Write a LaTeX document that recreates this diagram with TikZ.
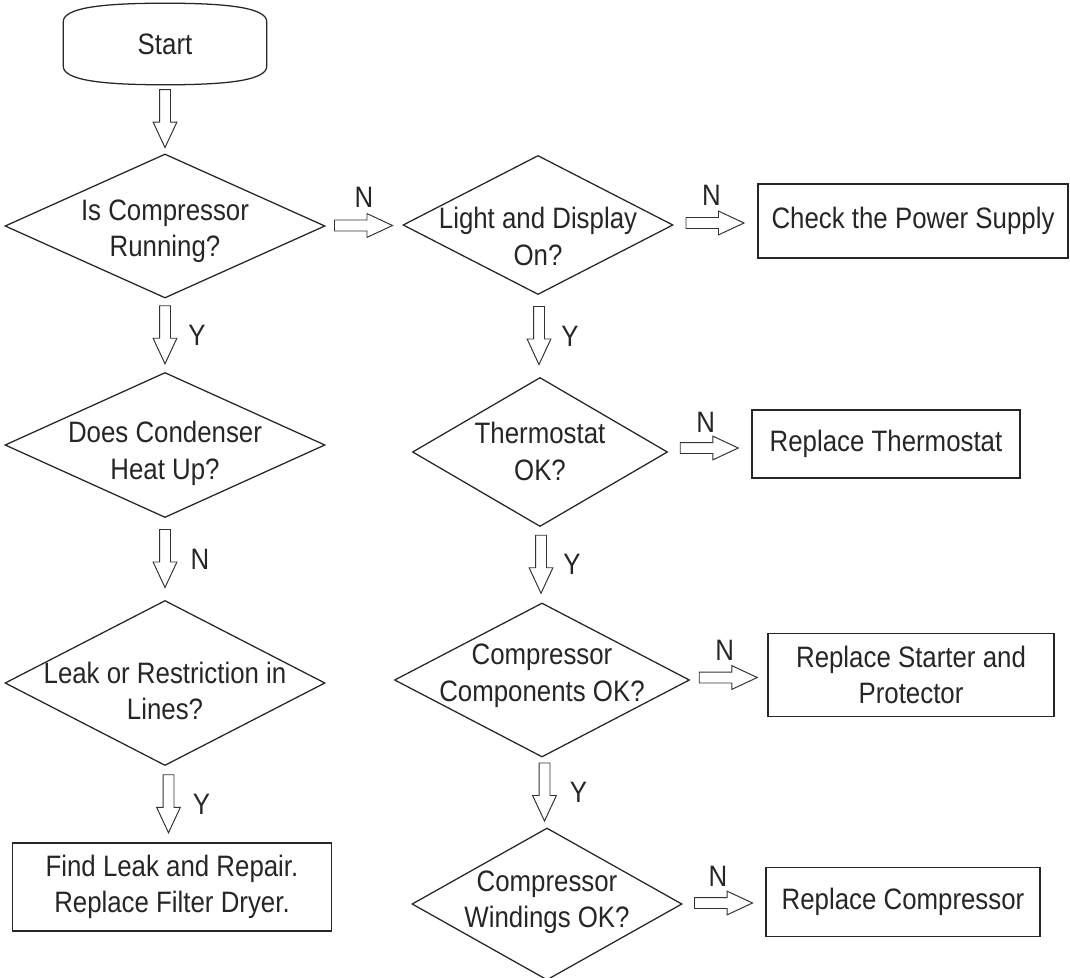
\documentclass[tikz,border=0pt]{standalone}
\usepackage{fontspec}
\setmainfont{Liberation Sans}[FakeStretch=0.875]
\usetikzlibrary{positioning, shapes.geometric, shapes.arrows, calc}

\newcommand{\qtxt}[2][-5pt]{\makebox[0pt]{\raisebox{#1}{\smash{\begin{tabular}{@{}c@{}}#2\end{tabular}}}}}

\begin{document}
\begin{tikzpicture}[
  x=0.025cm, y=-0.025cm,
  every node/.style={font=\fontsize{21}{26}\selectfont, text=black!85},
  decision/.style={diamond, draw=black!85, line width=0.9pt, aspect=2.2, inner sep=0pt},
  action/.style={rectangle, draw=black!85, line width=0.9pt, align=center, inner sep=2pt},
  blockarrow/.style={single arrow, draw=black!80, line width=0.7pt, inner xsep=0pt, inner ysep=0.125cm,
    minimum height=1.45cm, single arrow head extend=0.16cm, single arrow tip angle=50, anchor=tail},
  answer/.style={inner sep=0pt}
]
\useasboundingbox (0,0) rectangle (1070,978);

\node[minimum width=5.075cm, minimum height=2.025cm] (start) at (165,44) {Start};
\draw[line width=0.9pt, black!85] ($(start.west)+(0,-22)$) -- ($(start.west)+(0,22)$)
  .. controls +(0,14) and +(-65,0) .. (start.south)
  .. controls +(65,0) and +(0,14) .. ($(start.east)+(0,22)$) -- ($(start.east)+(0,-22)$)
  .. controls +(0,-14) and +(65,0) .. (start.north)
  .. controls +(-65,0) and +(0,-14) .. ($(start.west)+(0,-22)$) -- cycle;

% left column
\node[decision, minimum width=8cm, minimum height=3.6cm] (q1) at (165,226) {\qtxt[-17.7pt]{Is Compressor\\Running?}};
\node[decision, minimum width=8cm, minimum height=3.625cm] (q3) at (165,445) {\qtxt[-22.7pt]{Does Condenser\\Heat Up?}};
\node[decision, minimum width=8cm, minimum height=4.125cm] (q4) at (165,683) {\qtxt[-26pt]{Leak or Restriction in\\Lines?}};
\node[action, minimum width=7.975cm, minimum height=2.2cm] (fix) at (172,887) {Find Leak and Repair.\\Replace Filter Dryer.};

% middle column
\node[decision, minimum width=6.75cm, minimum height=3.475cm] (q2) at (538,225) {\qtxt[-31pt]{Light and Display\\On?}};
\node[decision, minimum width=6.375cm, minimum height=3.725cm] (q5) at (540,452) {\qtxt[-14pt]{Thermostat\\OK?}};
\node[decision, minimum width=7.375cm, minimum height=3.85cm] (q6) at (542,680) {\qtxt[-4pt]{Compressor\\Components OK?}};
\node[decision, minimum width=6.75cm, minimum height=3.8cm] (q7) at (547,904) {\qtxt[-8pt]{Compressor\\Windings OK?}};

% right column
\node[action, minimum width=7.75cm, minimum height=1.85cm] (power) at (913,221) {Check the Power Supply};
\node[action, minimum width=6.7cm, minimum height=1.7cm] (thermo) at (886,444) {Replace Thermostat};
\node[action, minimum width=7.15cm, minimum height=2.075cm] (starter) at (911,675) {Replace Starter and\\Protector};
\node[action, minimum width=6.85cm, minimum height=1.725cm] (compr) at (903,902) {Replace Compressor};

% block arrows, placed by their tails
\node[blockarrow, rotate=-90] (a0) at ($(start.south)!0.5!(q1.north)+(0,-30)$) {};
\node[blockarrow, rotate=-90] (a1) at ($(q1.south)!0.5!(q3.north)+(0,-30)$) {};
\node[blockarrow, rotate=-90] (a2) at ($(q3.south)!0.5!(q4.north)+(0,-30)$) {};
\node[blockarrow, rotate=-90] (a3) at ($(q4.south)!0.5!(fix.north)+(0,-30)$) {};
\node[blockarrow, rotate=-90] (a4) at ($(q2.south)!0.5!(q5.north)+(0,-30)$) {};
\node[blockarrow, rotate=-90] (a5) at ($(q5.south)!0.5!(q6.north)+(0,-30)$) {};
\node[blockarrow, rotate=-90] (a6) at ($(q6.south)!0.5!(q7.north)+(0,-30)$) {};
\node[blockarrow] (b1) at ($(q1.east)!0.5!(q2.west)+(-30,0)$) {};
\node[blockarrow] (b2) at ($(q2.east)!0.5!(power.west)+(-30,0)$) {};
\node[blockarrow] (b3) at ($(q5.east)!0.5!(thermo.west)+(-30,0)$) {};
\node[blockarrow] (b4) at ($(q6.east)!0.5!(starter.west)+(-30,0)$) {};
\node[blockarrow] (b5) at ($(q7.east)!0.5!(compr.west)+(-30,0)$) {};

% answers
\node[answer] (y1) at ($(q1.south)!0.5!(q3.north)+(32,0)$) {Y};
\node[answer] (n1) at ($(q3.south)!0.5!(q4.north)+(35,0)$) {N};
\node[answer] (y2) at ($(q4.south)!0.5!(fix.north)+(33,0)$) {Y};
\node[answer] (y3) at ($(q2.south)!0.5!(q5.north)+(31,0)$) {Y};
\node[answer] (y4) at ($(q5.south)!0.5!(q6.north)+(31,0)$) {Y};
\node[answer] (y5) at ($(q6.south)!0.5!(q7.north)+(34,0)$) {Y};
\node[answer] (n2) at ($(q1.east)!0.5!(q2.west)+(0,-28)$) {N};
\node[answer] (n3) at ($(q2.east)!0.5!(power.west)+(-4,-28)$) {N};
\node[answer] (n4) at ($(q5.east)!0.5!(thermo.west)+(-4,-26)$) {N};
\node[answer] (n5) at ($(q6.east)!0.5!(starter.west)+(-4,-27)$) {N};
\node[answer] (n6) at ($(q7.east)!0.5!(compr.west)+(-6,-27)$) {N};
\end{tikzpicture}
\end{document}
